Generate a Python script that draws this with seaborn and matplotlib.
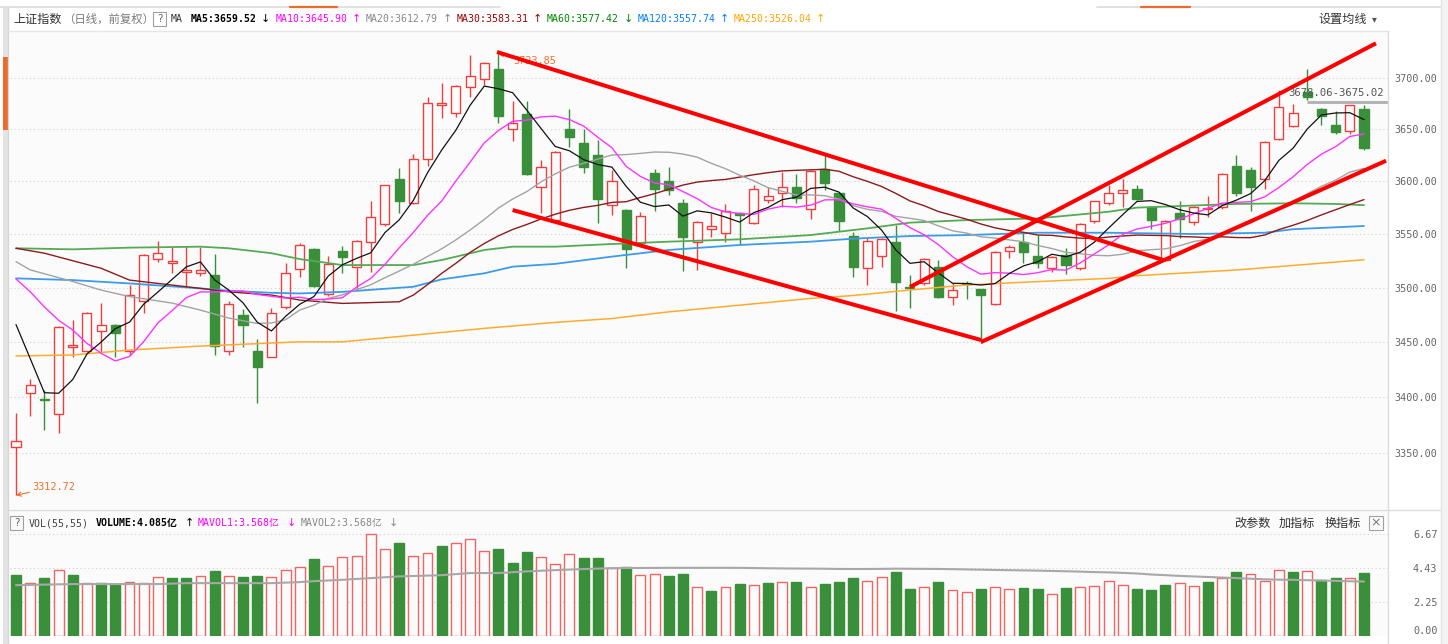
import numpy as np
import pandas as pd
import matplotlib
matplotlib.use("Agg")
import matplotlib.pyplot as plt
from matplotlib.lines import Line2D
from matplotlib.patches import Rectangle
from matplotlib.ticker import NullLocator, NullFormatter
import seaborn as sns

sns.set_theme(style="white")
plt.rcParams['font.family'] = ['Noto Sans CJK SC', 'DejaVu Sans']
plt.rcParams['axes.unicode_minus'] = False

# ===================== 数据 (上证指数 日线) =====================
opens = [3355.7, 3403.5, 3398.0, 3384.8, 3445.6, 3442.1, 3460.3, 3465.2, 3442.1, 3487.9,
         3526.5, 3522.7, 3514.6, 3513.7, 3511.5, 3441.6, 3474.4, 3442.1, 3436.1, 3481.8,
         3517.7, 3536.5, 3494.1, 3534.6, 3519.0, 3542.7, 3559.6, 3601.9, 3579.2, 3621.0,
         3673.4, 3666.2, 3691.0, 3698.8, 3709.1, 3650.7, 3665.0, 3594.5, 3563.4, 3650.7,
         3637.1, 3624.9, 3577.8, 3572.9, 3541.5, 3608.3, 3600.1, 3579.8, 3542.7, 3555.2,
         3550.8, 3569.8, 3560.8, 3582.3, 3589.3, 3594.5, 3573.6, 3612.0, 3589.3, 3548.3,
         3518.3, 3529.5, 3542.7, 3500.7, 3504.6, 3519.6, 3491.0, 3504.7, 3498.5, 3484.8,
         3534.0, 3542.7, 3529.5, 3518.3, 3530.3, 3518.3, 3562.1, 3579.8, 3589.3, 3592.5,
         3576.1, 3525.8, 3569.8, 3561.5, 3573.6, 3575.4, 3614.6, 3610.8, 3601.9, 3640.4,
         3653.3, 3686.5, 3669.6, 3653.9, 3648.1, 3669.6]
highs = [3386.0, 3416.2, 3406.4, 3464.5, 3470.2, 3477.9, 3485.5, 3466.5, 3502.2, 3531.2,
         3543.9, 3538.3, 3539.0, 3538.3, 3531.4, 3487.4, 3479.9, 3453.0, 3481.1, 3523.3,
         3541.8, 3536.8, 3529.5, 3539.0, 3544.8, 3581.0, 3597.0, 3613.3, 3626.0, 3681.7,
         3694.8, 3692.7, 3722.8, 3715.7, 3723.85, 3677.2, 3677.2, 3620.5, 3629.2, 3670.0,
         3650.0, 3639.5, 3610.8, 3574.1, 3571.1, 3611.5, 3614.0, 3583.5, 3562.9, 3569.8,
         3578.6, 3570.6, 3596.9, 3595.0, 3609.0, 3607.0, 3610.7, 3624.9, 3590.3, 3551.8,
         3546.8, 3546.8, 3558.4, 3512.1, 3527.7, 3525.8, 3504.6, 3506.5, 3499.2, 3533.8,
         3539.8, 3550.8, 3549.5, 3529.7, 3537.1, 3560.4, 3581.6, 3596.3, 3601.9, 3596.9,
         3577.1, 3563.4, 3581.0, 3577.1, 3586.1, 3607.7, 3625.5, 3614.0, 3638.5, 3688.3,
         3675.02, 3708.6, 3670.8, 3668.2, 3673.8, 3673.4]
lows = [3312.72, 3383.1, 3370.5, 3368.1, 3436.1, 3440.7, 3439.7, 3436.6, 3438.5, 3476.8,
        3523.9, 3513.9, 3501.5, 3510.9, 3438.5, 3438.5, 3445.8, 3395.0, 3436.0, 3480.8,
        3510.3, 3500.3, 3492.7, 3513.3, 3498.5, 3514.6, 3557.7, 3569.8, 3578.2, 3614.7,
        3661.2, 3662.4, 3681.2, 3693.0, 3656.0, 3638.5, 3606.4, 3569.8, 3562.0, 3632.7,
        3607.8, 3560.8, 3568.5, 3518.3, 3540.8, 3572.3, 3586.8, 3515.7, 3516.5, 3547.7,
        3542.7, 3540.8, 3560.0, 3579.2, 3576.1, 3579.2, 3564.1, 3591.8, 3552.7, 3509.7,
        3502.7, 3519.6, 3478.1, 3481.1, 3502.7, 3490.8, 3484.2, 3489.2, 3449.3, 3483.8,
        3527.7, 3522.7, 3518.3, 3514.6, 3512.7, 3516.7, 3560.9, 3577.4, 3575.4, 3582.2,
        3554.7, 3524.7, 3546.4, 3558.4, 3566.6, 3574.1, 3586.1, 3572.3, 3592.5, 3639.6,
        3652.1, 3678.06, 3654.6, 3645.5, 3645.9, 3630.3]
closes = [3360.5, 3411.3, 3397.0, 3463.4, 3447.5, 3476.2, 3465.8, 3458.5, 3493.4, 3530.2,
          3532.2, 3524.6, 3516.5, 3516.7, 3446.4, 3484.8, 3465.8, 3427.5, 3476.2, 3513.9,
          3540.2, 3501.5, 3522.1, 3529.0, 3543.9, 3566.4, 3596.3, 3581.7, 3621.0, 3676.0,
          3675.4, 3692.2, 3702.0, 3715.0, 3663.0, 3656.0, 3607.1, 3613.4, 3628.1, 3642.3,
          3613.4, 3583.7, 3600.6, 3536.5, 3567.2, 3592.5, 3591.4, 3547.7, 3561.5, 3557.7,
          3572.3, 3567.9, 3592.5, 3586.1, 3594.5, 3584.2, 3609.6, 3598.2, 3562.7, 3519.0,
          3543.8, 3545.8, 3505.3, 3499.7, 3526.5, 3491.6, 3497.8, 3503.7, 3492.9, 3533.4,
          3538.3, 3533.4, 3522.7, 3528.3, 3521.4, 3559.6, 3581.0, 3588.7, 3591.8, 3583.7,
          3563.3, 3562.7, 3564.1, 3576.1, 3574.9, 3607.1, 3588.7, 3595.0, 3637.8, 3672.1,
          3665.6, 3681.3, 3663.0, 3647.5, 3673.4, 3632.0]
prev_close = 3375.0  # 图中第一根之前的收盘 (成交量首根为绿)

# 成交量 (亿)
volumes = [3.99, 3.47, 3.78, 4.30, 3.97, 3.47, 3.47, 3.39, 3.54, 3.47,
           3.84, 3.78, 3.78, 3.91, 4.24, 3.91, 3.84, 3.91, 3.84, 4.30,
           4.50, 5.02, 4.56, 5.13, 5.21, 6.63, 5.71, 6.10, 5.21, 5.45,
           5.87, 6.04, 6.34, 5.58, 5.65, 4.76, 5.47, 5.13, 4.69, 5.34,
           5.06, 5.06, 4.43, 4.50, 3.97, 4.04, 3.91, 4.04, 3.23, 2.95,
           3.19, 3.39, 3.32, 3.45, 3.52, 3.52, 3.19, 3.39, 3.52, 3.78,
           3.58, 3.84, 4.17, 3.06, 3.19, 3.52, 3.00, 2.87, 3.06, 3.19,
           3.06, 3.13, 3.06, 2.73, 3.13, 3.19, 3.26, 3.58, 3.32, 3.06,
           3.00, 3.32, 3.45, 3.26, 3.52, 3.78, 4.17, 4.04, 3.58, 4.30,
           4.17, 4.24, 3.65, 3.78, 3.78, 4.085]

# 均线开头部分(窗口未满, 从图上读取)
ma5_head_idx = [0, 1, 2, 3]
ma5_head_val = [3466.0, 3435.0, 3404.0, 3403.5]
ma10_head_idx = [0, 1, 2, 3, 4, 5, 6, 7, 8]
ma10_head_val = [3508.2, 3496.3, 3482.3, 3470.0, 3461.0, 3448.8, 3439.7, 3432.8, 3436.8]
ma20_head_idx = [0, 1, 4, 6, 8, 11, 13, 15, 17, 18]
ma20_head_val = [3524.3, 3516.6, 3505.8, 3497.8, 3491.8, 3485.8, 3479.3, 3472.0, 3467.0, 3467.5]
ma30_head_idx = [0, 2, 6, 8, 11, 13, 15, 18, 20, 23, 27, 28]
ma30_head_val = [3536.8, 3532.2, 3518.1, 3507.1, 3502.5, 3499.4, 3496.2, 3493.2, 3488.6,
                 3485.5, 3487.0, 3493.2]
# 长周期均线 (图上读取)
ma60_idx = [0, 4, 8, 13, 15, 18, 20, 23, 28, 30, 33, 35, 38, 42, 46, 51, 56, 60, 63, 67,
            72, 77, 79, 81, 86, 90, 93, 95]
ma60_val = [3536.8, 3535.8, 3537.4, 3538.3, 3536.8, 3532.2, 3526.7, 3521.1, 3521.1, 3525.8,
            3535.2, 3538.3, 3538.3, 3540.8, 3543.0, 3545.2, 3549.2, 3555.5, 3560.9, 3563.3,
            3564.9, 3571.2, 3575.1, 3576.1, 3578.6, 3579.2, 3578.6, 3577.42]
ma120_idx = [0, 4, 8, 13, 15, 18, 20, 23, 28, 30, 33, 35, 38, 42, 46, 51, 56, 59, 63, 67,
             72, 77, 83, 88, 90, 95]
ma120_val = [3508.7, 3507.1, 3504.0, 3499.4, 3497.2, 3495.3, 3494.7, 3496.2, 3500.9, 3507.8,
             3513.4, 3519.6, 3522.2, 3529.0, 3535.2, 3539.9, 3543.0, 3545.8, 3548.3, 3549.2,
             3551.4, 3551.4, 3550.2, 3551.4, 3554.7, 3557.74]
ma250_idx = [0, 4, 8, 13, 20, 23, 28, 33, 38, 42, 46, 51, 56, 59, 63, 67, 72, 77, 79, 86, 95]
ma250_val = [3437.3, 3438.2, 3442.7, 3446.3, 3450.2, 3450.2, 3456.3, 3462.5, 3468.0, 3471.6,
             3477.7, 3483.9, 3490.1, 3492.8, 3497.9, 3502.6, 3505.7, 3508.7, 3511.2, 3516.5,
             3526.04]
mavol_head_idx = [0, 4, 10, 12, 18, 20, 21, 23, 25, 27, 30, 32, 34, 36, 38, 40, 42, 46, 51, 53]
mavol_head_val = [3.32, 3.39, 3.39, 3.45, 3.45, 3.52, 3.58, 3.67, 3.78, 3.89, 3.97, 4.11,
                  4.11, 4.22, 4.30, 4.37, 4.43, 4.45, 4.45, 4.42]

# 手绘通道线 (起点/终点: K线序号, 点位)
trend_x0 = [33.9, 35.0, 68.0, 63.0]
trend_y0 = [3725.6, 3572.8, 3450.0, 3500.7]
trend_x1 = [80.85, 68.0, 96.55, 95.84]
trend_y1 = [3525.8, 3451.9, 3619.8, 3734.2]

# 缺口
gap_start = 91
gap_low = 3675.02
gap_high = 3678.06

price_ticks = [3350, 3400, 3450, 3500, 3550, 3600, 3650, 3700]
vol_ticks = [0.0, 2.25, 4.43, 6.67]

ma_labels = ["MA5:3659.52", "MA10:3645.90", "MA20:3612.79", "MA30:3583.31",
             "MA60:3577.42", "MA120:3557.74", "MA250:3526.04"]
ma_arrows = ["↓", "↑", "↑", "↑", "↓", "↑", "↑"]
# ===============================================================

n = len(closes)
idx = np.arange(n)

W, H = 1448, 644
fig = plt.figure(figsize=(W / 100, H / 100), dpi=100, facecolor='white')


def fx(x):
    return x / W


def fy(y):
    return 1 - y / H


def px_axes(x0, y0, x1, y1):
    return fig.add_axes([fx(x0), fy(y1), (x1 - x0) / W, (y1 - y0) / H])


def hline(x0, x1, y, **kw):
    fig.add_artist(Line2D([fx(x0), fx(x1)], [fy(y), fy(y)], transform=fig.transFigure, **kw))


def vline(x, y0, y1, **kw):
    fig.add_artist(Line2D([fx(x), fx(x)], [fy(y0), fy(y1)], transform=fig.transFigure, **kw))


def box(x0, y0, x1, y1, **kw):
    fig.add_artist(Rectangle((fx(x0), fy(y1)), (x1 - x0) / W, (y1 - y0) / H,
                             transform=fig.transFigure, **kw))


def label(x, y, s, **kw):
    kw.setdefault('va', 'center')
    fig.text(fx(x), fy(y), s, **kw)


BG = '#fbfbfb'
UP = '#ee3f3f'
UP_VOL = '#f06464'
DOWN = '#3a8f3a'
ORANGE = '#f0702c'
MONO = ['DejaVu Sans Mono', 'Noto Sans CJK SC']
CJK = ['Noto Sans CJK SC', 'DejaVu Sans']
GRID = dict(color='#cfcfcf', lw=0.8, ls=(0, (1, 2.5)))

ax = px_axes(10, 31, 1388, 509)
axv = px_axes(10, 511, 1388, 636)
for a in (ax, axv):
    a.set_facecolor(BG)
    for s in a.spines.values():
        s.set_visible(False)

# ---------- K线 ----------
up = np.array(closes) >= np.array(opens)
ax.vlines(idx, lows, highs, colors=np.where(up, UP, DOWN), lw=1.0, zorder=2)
body_w = 0.64
for i in idx:
    lo, hi = min(opens[i], closes[i]), max(opens[i], closes[i])
    ax.add_patch(Rectangle((i - body_w / 2, lo), body_w, max(hi - lo, 0.4),
                           facecolor=BG if up[i] else DOWN,
                           edgecolor=UP if up[i] else DOWN, lw=1.0, zorder=3))

# ---------- 均线 ----------
def with_head(head_idx, head_val, window):
    roll = pd.Series(closes).rolling(window).mean()
    comp = pd.DataFrame({"idx": idx, "val": roll}).dropna()
    return pd.concat([pd.DataFrame({"idx": head_idx, "val": head_val}), comp], ignore_index=True)


ma_frames = [
    (pd.DataFrame({"idx": ma250_idx, "val": ma250_val}), '#ffab2e', 1.1),
    (pd.DataFrame({"idx": ma120_idx, "val": ma120_val}), '#3d9be9', 1.3),
    (pd.DataFrame({"idx": ma60_idx, "val": ma60_val}), '#55aa55', 1.3),
    (with_head(ma30_head_idx, ma30_head_val, 30), '#8b1c1c', 1.0),
    (with_head(ma20_head_idx, ma20_head_val, 20), '#a3a3a3', 1.0),
    (with_head(ma10_head_idx, ma10_head_val, 10), '#ff33ff', 1.0),
    (with_head(ma5_head_idx, ma5_head_val, 5), '#111111', 0.9),
]
for df, col, lw in ma_frames:
    sns.lineplot(data=df, x="idx", y="val", ax=ax, color=col, linewidth=lw,
                 estimator=None, legend=False, zorder=4)

# ---------- 通道线 ----------
for x0, y0, x1, y1 in zip(trend_x0, trend_y0, trend_x1, trend_y1):
    ax.plot([x0, x1], [y0, y1], color='#ff0000', lw=2.9, solid_capstyle='butt', zorder=6)

# 缺口
ax.hlines((gap_low + gap_high) / 2, gap_start, n + 1, color='#b4b4b4', lw=2.2, zorder=5)
ax.text(0.997, 3685.3, f"{gap_high:.2f}-{gap_low:.2f}", transform=ax.get_yaxis_transform(),
        ha='right', va='center', fontsize=7.6, family=MONO, color='#555555', zorder=7)

# 最高/最低标注
i_hi = int(np.argmax(highs))
i_lo = int(np.argmin(lows))
ax.annotate(f"{highs[i_hi]:.2f}", xy=(i_hi, highs[i_hi]), xytext=(11, -5),
            textcoords='offset points', ha='left', va='center', fontsize=7.4, family=MONO,
            color=ORANGE, zorder=5,
            arrowprops=dict(arrowstyle='->', color=ORANGE, lw=0.8, shrinkA=0, shrinkB=0))
ax.annotate(f"{lows[i_lo]:.2f}", xy=(i_lo, lows[i_lo]), xytext=(12, 6),
            textcoords='offset points', ha='left', va='center', fontsize=7.4, family=MONO,
            color=ORANGE, zorder=7,
            arrowprops=dict(arrowstyle='->', color=ORANGE, lw=0.8, shrinkA=0, shrinkB=0))

ax.set_yscale('log')
ax.set_xlim(-0.423, 96.69)
ax.set_ylim(3300.7, 3746.4)
ax.set_yticks(price_ticks, labels=[f"{t:.2f}" for t in price_ticks])
ax.yaxis.set_minor_locator(NullLocator())
ax.yaxis.set_minor_formatter(NullFormatter())
ax.set_xticks([])
ax.set_xlabel("")
ax.set_ylabel("")
ax.yaxis.tick_right()
ax.tick_params(axis='y', length=0, pad=35.6, labelsize=7.3, labelcolor='#666666')
for lbl in ax.get_yticklabels():
    lbl.set_horizontalalignment('right')
    lbl.set_family('DejaVu Sans Mono')
ax.set_axisbelow(True)
ax.grid(axis='y', **GRID)

# ---------- 成交量 ----------
prev = np.r_[prev_close, closes[:-1]]
vol_up = np.array(closes) >= prev
axv.bar(idx, volumes, width=0.7, color=np.where(vol_up, BG, DOWN),
        edgecolor=np.where(vol_up, UP_VOL, DOWN), lw=1.0, zorder=3)
mavol = pd.Series(volumes).rolling(55).mean()
mavol_df = pd.concat([pd.DataFrame({"idx": mavol_head_idx, "val": mavol_head_val}),
                      pd.DataFrame({"idx": idx, "val": mavol}).dropna()], ignore_index=True)
sns.lineplot(data=mavol_df, x="idx", y="val", ax=axv, color='#a8a8a8', linewidth=1.5,
             estimator=None, legend=False, zorder=4)
for t in vol_ticks[1:]:
    axv.axhline(t, zorder=1, **GRID)
axv.set_xlim(-0.423, 96.69)
axv.set_ylim(0, 8.16)
axv.set_xticks([])
axv.set_xlabel("")
axv.set_ylabel("")
axv.set_yticks(vol_ticks, labels=[f"{t:.2f}" for t in vol_ticks])
axv.yaxis.tick_right()
axv.tick_params(axis='y', length=0, pad=35.6, labelsize=7.3, labelcolor='#666666')
for k, lbl in enumerate(axv.get_yticklabels()):
    lbl.set_horizontalalignment('right')
    lbl.set_family('DejaVu Sans Mono')
    if k == 0:
        lbl.set_verticalalignment('bottom')

# ---------- 边框/分隔 ----------
box(3, 7, 7.5, 644, facecolor='#e3e3e3', edgecolor='none')
box(3, 57, 7.5, 130, facecolor='#ec6a2a', edgecolor='none')
vline(8, 7, 644, color='#d6d6d6', lw=1)
hline(0, 500, 7, color='#dcdcdc', lw=1.2)
hline(1097, 1441, 7, color='#dcdcdc', lw=1.2)
hline(290, 337, 7, color='#ec6a2a', lw=1.6)
hline(1141, 1190, 7, color='#ec6a2a', lw=1.6)
hline(8, 1388, 31, color='#e6e6e6', lw=1)
hline(8, 1441, 510, color='#dcdcdc', lw=1)
vline(1388, 31, 644, color='#dcdcdc', lw=1)
vline(1441, 0, 644, color='#e4e4e4', lw=1)
box(1441.5, 0, 1448, 644, facecolor='#f3f3f3', edgecolor='none')

# ---------- 顶部均线栏 ----------
label(13, 19, "上证指数", fontsize=8.7, family=CJK, color='#333333')
label(63, 19, "（日线，前复权）", fontsize=8.2, family=CJK, color='#7a7a7a')
box(153, 12, 166, 26, facecolor='none', edgecolor='#a0a0a0', lw=0.8)
label(159.5, 19, "?", fontsize=7.5, color='#666666', ha='center', family=['DejaVu Sans'])
label(171, 19, "MA", fontsize=7.1, family=MONO, color='#333333')
ma_colors = ['#000000', '#ff00ff', '#888888', '#990000', '#008800', '#0080ff', '#ffa500']
ma_text_x = [191, 276, 366, 457, 547, 638, 734]
ma_arrow_x = [265, 356, 447, 537, 628, 724, 820]
for s, a, c, tx, axx in zip(ma_labels, ma_arrows, ma_colors, ma_text_x, ma_arrow_x):
    label(tx, 19, s, fontsize=7.1, family=MONO, color=c,
          weight='bold' if c == '#000000' else 'normal')
    label(axx, 19, a, fontsize=8, family=['DejaVu Sans'], color=c, ha='center')
label(1318, 19, "设置均线", fontsize=8.7, family=CJK, color='#333333')
label(1374, 19, "▾", fontsize=7, family=['DejaVu Sans'], color='#555555', ha='center')

# ---------- 成交量栏 ----------
box(10, 516, 23, 530, facecolor='none', edgecolor='#a0a0a0', lw=0.8)
label(16.5, 523, "?", fontsize=7.5, color='#666666', ha='center', family=['DejaVu Sans'])
label(29, 523, "VOL(55,55)", fontsize=7.1, family=MONO, color='#444444')
label(96, 523, "VOLUME:4.085亿", fontsize=7.1, family=MONO, color='#000000', weight='bold')
label(189, 523, "↑", fontsize=8, family=['DejaVu Sans'], color='#000000', ha='center')
label(198, 523, "MAVOL1:3.568亿", fontsize=7.1, family=MONO, color='#ff00ff')
label(291, 523, "↓", fontsize=8, family=['DejaVu Sans'], color='#ff00ff', ha='center')
label(301, 523, "MAVOL2:3.568亿", fontsize=7.1, family=MONO, color='#888888')
label(393, 523, "↓", fontsize=8, family=['DejaVu Sans'], color='#888888', ha='center')
label(1234, 523, "改参数", fontsize=8.7, family=CJK, color='#333333')
label(1279, 523, "加指标", fontsize=8.7, family=CJK, color='#333333')
label(1325, 523, "换指标", fontsize=8.7, family=CJK, color='#333333')
box(1369, 516, 1383, 530, facecolor='none', edgecolor='#a0a0a0', lw=0.8)
label(1376, 523, "×", fontsize=9, family=['DejaVu Sans'], color='#777777', ha='center')

fig.savefig("out.png", dpi=100, facecolor='white')
